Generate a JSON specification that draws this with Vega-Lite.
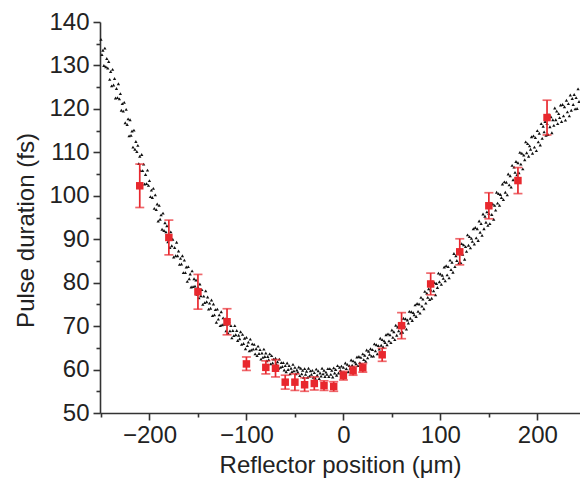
{
"$schema": "https://vega.github.io/schema/vega-lite/v6.json",
"width": 480,
"height": 391,
"autosize": {"type": "none"},
"padding": {"left": 100, "top": 22, "right": 0, "bottom": 79},
"background": "white",
"config": {
  "view": {"stroke": null},
  "font": "Liberation Sans",
  "axis": {"grid": false, "domainColor": "#333", "tickColor": "#333", "domainWidth": 1.6, "tickWidth": 1.6, "labelFont": "Liberation Sans", "titleFont": "Liberation Sans", "labelColor": "#222", "titleColor": "#222", "labelFontSize": 24, "titleFontSize": 24, "titleFontWeight": "normal"}
},
"datasets": {
  "dots": [
{"x":-250,"y":136.0},{"x":-249,"y":132.5},{"x":-248,"y":133.5},{"x":-247,"y":130.0},{"x":-246,"y":134.0},{"x":-245,"y":129.7},{"x":-244,"y":131.6},{"x":-243,"y":129.4},{"x":-242,"y":130.9},{"x":-241,"y":126.8},
{"x":-240,"y":128.6},{"x":-239,"y":125.3},{"x":-238,"y":129.1},{"x":-237,"y":125.5},{"x":-236,"y":127.0},{"x":-235,"y":122.5},{"x":-234,"y":124.7},{"x":-233,"y":122.6},{"x":-232,"y":125.8},{"x":-231,"y":122.3},
{"x":-230,"y":123.5},{"x":-229,"y":119.7},{"x":-228,"y":121.2},{"x":-227,"y":119.5},{"x":-226,"y":121.5},{"x":-225,"y":116.8},{"x":-224,"y":119.9},{"x":-223,"y":116.4},{"x":-222,"y":117.7},{"x":-221,"y":113.8},
{"x":-220,"y":117.5},{"x":-219,"y":113.9},{"x":-218,"y":114.9},{"x":-217,"y":111.2},{"x":-216,"y":115.1},{"x":-215,"y":110.7},{"x":-214,"y":112.5},{"x":-213,"y":110.2},{"x":-212,"y":111.6},{"x":-211,"y":107.4},
{"x":-210,"y":109.1},{"x":-209,"y":105.8},{"x":-208,"y":109.5},{"x":-207,"y":105.8},{"x":-206,"y":107.3},{"x":-205,"y":102.7},{"x":-204,"y":104.9},{"x":-203,"y":102.8},{"x":-202,"y":105.9},{"x":-201,"y":102.4},
{"x":-200,"y":103.5},{"x":-199,"y":99.8},{"x":-198,"y":101.3},{"x":-197,"y":99.6},{"x":-196,"y":101.7},{"x":-195,"y":97.1},{"x":-194,"y":100.2},{"x":-193,"y":96.8},{"x":-192,"y":98.1},{"x":-191,"y":94.2},
{"x":-190,"y":97.8},{"x":-189,"y":94.6},{"x":-188,"y":95.6},{"x":-187,"y":92.3},{"x":-186,"y":96.0},{"x":-185,"y":92.0},{"x":-184,"y":93.8},{"x":-183,"y":91.7},{"x":-182,"y":93.1},{"x":-181,"y":89.4},
{"x":-180,"y":91.1},{"x":-179,"y":88.1},{"x":-178,"y":91.7},{"x":-177,"y":88.5},{"x":-176,"y":90.0},{"x":-175,"y":85.9},{"x":-174,"y":88.1},{"x":-173,"y":86.2},{"x":-172,"y":89.3},{"x":-171,"y":86.2},
{"x":-170,"y":87.3},{"x":-169,"y":84.2},{"x":-168,"y":85.6},{"x":-167,"y":84.3},{"x":-166,"y":86.2},{"x":-165,"y":82.3},{"x":-164,"y":85.2},{"x":-163,"y":82.3},{"x":-162,"y":83.6},{"x":-161,"y":80.3},
{"x":-160,"y":83.7},{"x":-159,"y":80.9},{"x":-158,"y":82.0},{"x":-157,"y":79.0},{"x":-156,"y":82.7},{"x":-155,"y":79.1},{"x":-154,"y":80.9},{"x":-153,"y":79.2},{"x":-152,"y":80.6},{"x":-151,"y":77.3},
{"x":-150,"y":79.0},{"x":-149,"y":76.5},{"x":-148,"y":79.7},{"x":-147,"y":77.0},{"x":-146,"y":78.4},{"x":-145,"y":75.0},{"x":-144,"y":76.9},{"x":-143,"y":75.4},{"x":-142,"y":78.1},{"x":-141,"y":75.6},
{"x":-140,"y":76.7},{"x":-139,"y":73.9},{"x":-138,"y":75.3},{"x":-137,"y":74.1},{"x":-136,"y":76.0},{"x":-135,"y":72.4},{"x":-134,"y":75.1},{"x":-133,"y":72.6},{"x":-132,"y":73.8},{"x":-131,"y":70.9},
{"x":-130,"y":73.9},{"x":-129,"y":71.6},{"x":-128,"y":72.6},{"x":-127,"y":70.1},{"x":-126,"y":73.3},{"x":-125,"y":70.3},{"x":-124,"y":71.9},{"x":-123,"y":70.4},{"x":-122,"y":71.7},{"x":-121,"y":68.9},
{"x":-120,"y":70.4},{"x":-119,"y":68.4},{"x":-118,"y":71.1},{"x":-117,"y":68.9},{"x":-116,"y":70.1},{"x":-115,"y":67.3},{"x":-114,"y":69.0},{"x":-113,"y":67.8},{"x":-112,"y":70.1},{"x":-111,"y":68.0},
{"x":-110,"y":69.0},{"x":-109,"y":66.7},{"x":-108,"y":67.9},{"x":-107,"y":67.1},{"x":-106,"y":68.7},{"x":-105,"y":65.8},{"x":-104,"y":68.1},{"x":-103,"y":66.0},{"x":-102,"y":67.2},{"x":-101,"y":64.8},
{"x":-100,"y":67.4},{"x":-99,"y":65.5},{"x":-98,"y":66.3},{"x":-97,"y":64.3},{"x":-96,"y":67.0},{"x":-95,"y":64.5},{"x":-94,"y":65.9},{"x":-93,"y":64.7},{"x":-92,"y":65.8},{"x":-91,"y":63.6},
{"x":-90,"y":64.8},{"x":-89,"y":63.2},{"x":-88,"y":65.4},{"x":-87,"y":63.7},{"x":-86,"y":64.6},{"x":-85,"y":62.4},{"x":-84,"y":63.8},{"x":-83,"y":62.8},{"x":-82,"y":64.7},{"x":-81,"y":63.0},
{"x":-80,"y":63.8},{"x":-79,"y":62.0},{"x":-78,"y":63.0},{"x":-77,"y":62.3},{"x":-76,"y":63.6},{"x":-75,"y":61.3},{"x":-74,"y":63.2},{"x":-73,"y":61.5},{"x":-72,"y":62.4},{"x":-71,"y":60.6},
{"x":-70,"y":62.6},{"x":-69,"y":61.2},{"x":-68,"y":61.8},{"x":-67,"y":60.3},{"x":-66,"y":62.4},{"x":-65,"y":60.5},{"x":-64,"y":61.6},{"x":-63,"y":60.7},{"x":-62,"y":61.6},{"x":-61,"y":59.9},
{"x":-60,"y":60.9},{"x":-59,"y":59.5},{"x":-58,"y":61.5},{"x":-57,"y":60.0},{"x":-56,"y":60.9},{"x":-55,"y":59.0},{"x":-54,"y":60.3},{"x":-53,"y":59.5},{"x":-52,"y":61.2},{"x":-51,"y":59.7},
{"x":-50,"y":60.5},{"x":-49,"y":59.0},{"x":-48,"y":59.9},{"x":-47,"y":59.4},{"x":-46,"y":60.6},{"x":-45,"y":58.6},{"x":-44,"y":60.3},{"x":-43,"y":59.0},{"x":-42,"y":59.8},{"x":-41,"y":58.2},
{"x":-40,"y":60.2},{"x":-39,"y":58.9},{"x":-38,"y":59.6},{"x":-37,"y":58.2},{"x":-36,"y":60.3},{"x":-35,"y":58.5},{"x":-34,"y":59.7},{"x":-33,"y":58.9},{"x":-32,"y":59.8},{"x":-31,"y":58.2},
{"x":-30,"y":59.3},{"x":-29,"y":58.0},{"x":-28,"y":60.1},{"x":-27,"y":58.7},{"x":-26,"y":59.7},{"x":-25,"y":57.9},{"x":-24,"y":59.2},{"x":-23,"y":58.5},{"x":-22,"y":60.3},{"x":-21,"y":59.0},
{"x":-20,"y":59.8},{"x":-19,"y":58.4},{"x":-18,"y":59.4},{"x":-17,"y":58.9},{"x":-16,"y":60.2},{"x":-15,"y":58.4},{"x":-14,"y":60.2},{"x":-13,"y":58.9},{"x":-12,"y":59.8},{"x":-11,"y":58.3},
{"x":-10,"y":60.4},{"x":-9,"y":59.2},{"x":-8,"y":60.0},{"x":-7,"y":58.7},{"x":-6,"y":60.9},{"x":-5,"y":59.2},{"x":-4,"y":60.5},{"x":-3,"y":59.8},{"x":-2,"y":60.8},{"x":-1,"y":59.3},
{"x":0,"y":60.5},{"x":1,"y":59.3},{"x":2,"y":61.5},{"x":3,"y":60.2},{"x":4,"y":61.2},{"x":5,"y":59.5},{"x":6,"y":60.9},{"x":7,"y":60.3},{"x":8,"y":62.2},{"x":9,"y":61.0},
{"x":10,"y":62.0},{"x":11,"y":60.5},{"x":12,"y":61.7},{"x":13,"y":61.3},{"x":14,"y":62.9},{"x":15,"y":60.9},{"x":16,"y":63.0},{"x":17,"y":61.6},{"x":18,"y":62.8},{"x":19,"y":61.2},
{"x":20,"y":63.6},{"x":21,"y":62.3},{"x":22,"y":63.3},{"x":23,"y":61.9},{"x":24,"y":64.5},{"x":25,"y":62.7},{"x":26,"y":64.2},{"x":27,"y":63.5},{"x":28,"y":64.8},{"x":29,"y":63.1},
{"x":30,"y":64.6},{"x":31,"y":63.1},{"x":32,"y":65.9},{"x":33,"y":64.3},{"x":34,"y":65.7},{"x":35,"y":63.6},{"x":36,"y":65.5},{"x":37,"y":64.7},{"x":38,"y":67.2},{"x":39,"y":65.6},
{"x":40,"y":66.9},{"x":41,"y":65.2},{"x":42,"y":66.6},{"x":43,"y":66.2},{"x":44,"y":68.0},{"x":45,"y":65.7},{"x":46,"y":68.2},{"x":47,"y":66.6},{"x":48,"y":68.0},{"x":49,"y":66.2},
{"x":50,"y":69.1},{"x":51,"y":67.4},{"x":52,"y":68.7},{"x":53,"y":66.9},{"x":54,"y":70.2},{"x":55,"y":67.9},{"x":56,"y":69.8},{"x":57,"y":68.9},{"x":58,"y":70.5},{"x":59,"y":68.4},
{"x":60,"y":70.2},{"x":61,"y":68.6},{"x":62,"y":71.8},{"x":63,"y":70.0},{"x":64,"y":71.7},{"x":65,"y":69.3},{"x":66,"y":71.4},{"x":67,"y":70.7},{"x":68,"y":73.4},{"x":69,"y":71.8},
{"x":70,"y":73.3},{"x":71,"y":71.3},{"x":72,"y":73.1},{"x":73,"y":72.6},{"x":74,"y":74.9},{"x":75,"y":72.2},{"x":76,"y":75.2},{"x":77,"y":73.4},{"x":78,"y":75.1},{"x":79,"y":73.0},
{"x":80,"y":76.6},{"x":81,"y":74.6},{"x":82,"y":76.2},{"x":83,"y":74.0},{"x":84,"y":78.0},{"x":85,"y":75.3},{"x":86,"y":77.6},{"x":87,"y":76.6},{"x":88,"y":78.6},{"x":89,"y":76.1},
{"x":90,"y":78.3},{"x":91,"y":76.4},{"x":92,"y":80.2},{"x":93,"y":78.1},{"x":94,"y":80.0},{"x":95,"y":77.2},{"x":96,"y":79.8},{"x":97,"y":78.9},{"x":98,"y":82.2},{"x":99,"y":80.2},
{"x":100,"y":82.0},{"x":101,"y":79.6},{"x":102,"y":81.7},{"x":103,"y":81.0},{"x":104,"y":83.6},{"x":105,"y":80.4},{"x":106,"y":83.9},{"x":107,"y":81.8},{"x":108,"y":83.7},{"x":109,"y":81.1},
{"x":110,"y":85.2},{"x":111,"y":83.0},{"x":112,"y":84.7},{"x":113,"y":82.4},{"x":114,"y":86.7},{"x":115,"y":83.7},{"x":116,"y":86.2},{"x":117,"y":85.1},{"x":118,"y":87.2},{"x":119,"y":84.5},
{"x":120,"y":86.9},{"x":121,"y":84.6},{"x":122,"y":89.0},{"x":123,"y":86.5},{"x":124,"y":88.7},{"x":125,"y":85.4},{"x":126,"y":88.3},{"x":127,"y":87.2},{"x":128,"y":91.0},{"x":129,"y":88.6},
{"x":130,"y":90.6},{"x":131,"y":88.0},{"x":132,"y":90.2},{"x":133,"y":89.5},{"x":134,"y":92.4},{"x":135,"y":88.9},{"x":136,"y":92.7},{"x":137,"y":90.3},{"x":138,"y":92.4},{"x":139,"y":89.7},
{"x":140,"y":94.2},{"x":141,"y":91.6},{"x":142,"y":93.6},{"x":143,"y":90.9},{"x":144,"y":95.8},{"x":145,"y":92.4},{"x":146,"y":95.3},{"x":147,"y":93.9},{"x":148,"y":96.3},{"x":149,"y":93.2},
{"x":150,"y":95.9},{"x":151,"y":93.6},{"x":152,"y":98.3},{"x":153,"y":95.7},{"x":154,"y":98.1},{"x":155,"y":94.6},{"x":156,"y":97.8},{"x":157,"y":96.7},{"x":158,"y":100.8},{"x":159,"y":98.3},
{"x":160,"y":100.5},{"x":161,"y":97.8},{"x":162,"y":100.3},{"x":163,"y":99.6},{"x":164,"y":102.7},{"x":165,"y":99.1},{"x":166,"y":103.2},{"x":167,"y":100.8},{"x":168,"y":103.1},{"x":169,"y":100.2},
{"x":170,"y":105.0},{"x":171,"y":102.5},{"x":172,"y":104.6},{"x":173,"y":102.0},{"x":174,"y":107.0},{"x":175,"y":103.7},{"x":176,"y":106.6},{"x":177,"y":105.4},{"x":178,"y":107.9},{"x":179,"y":104.8},
{"x":180,"y":107.6},{"x":181,"y":105.3},{"x":182,"y":110.0},{"x":183,"y":107.3},{"x":184,"y":109.8},{"x":185,"y":106.2},{"x":186,"y":109.4},{"x":187,"y":108.3},{"x":188,"y":112.4},{"x":189,"y":109.9},
{"x":190,"y":112.0},{"x":191,"y":109.1},{"x":192,"y":111.5},{"x":193,"y":110.7},{"x":194,"y":113.6},{"x":195,"y":109.8},{"x":196,"y":113.8},{"x":197,"y":111.2},{"x":198,"y":113.4},{"x":199,"y":110.4},
{"x":200,"y":115.0},{"x":201,"y":112.4},{"x":202,"y":114.4},{"x":203,"y":111.7},{"x":204,"y":116.6},{"x":205,"y":113.2},{"x":206,"y":116.0},{"x":207,"y":114.7},{"x":208,"y":117.1},{"x":209,"y":113.9},
{"x":210,"y":116.6},{"x":211,"y":114.1},{"x":212,"y":118.7},{"x":213,"y":115.9},{"x":214,"y":118.2},{"x":215,"y":114.5},{"x":216,"y":117.5},{"x":217,"y":116.2},{"x":218,"y":120.2},{"x":219,"y":117.5},
{"x":220,"y":119.5},{"x":221,"y":116.6},{"x":222,"y":118.9},{"x":223,"y":118.0},{"x":224,"y":120.9},{"x":225,"y":117.1},{"x":226,"y":121.0},{"x":227,"y":118.4},{"x":228,"y":120.5},{"x":229,"y":117.4},
{"x":230,"y":122.0},{"x":231,"y":119.3},{"x":232,"y":121.2},{"x":233,"y":118.4},{"x":234,"y":123.2},{"x":235,"y":119.7},{"x":236,"y":122.4},{"x":237,"y":121.0},{"x":238,"y":123.3},{"x":239,"y":120.0},
{"x":240,"y":122.6},{"x":241,"y":120.1},{"x":242,"y":124.6},{"x":243,"y":121.7}
  ],
  "red": [
{"x":-210,"y":102.3,"lo":97.3,"hi":107.3},
{"x":-180,"y":90.4,"lo":86.4,"hi":94.4},
{"x":-150,"y":77.9,"lo":73.9,"hi":81.9},
{"x":-120,"y":71.0,"lo":68.0,"hi":74.0},
{"x":-100,"y":61.3,"lo":59.8,"hi":62.9},
{"x":-80,"y":60.5,"lo":59.0,"hi":62.0},
{"x":-70,"y":60.3,"lo":58.3,"hi":62.3},
{"x":-60,"y":57.1,"lo":55.5,"hi":58.7},
{"x":-50,"y":57.1,"lo":55.2,"hi":59.0},
{"x":-40,"y":56.5,"lo":55.0,"hi":58.1},
{"x":-30,"y":56.8,"lo":55.3,"hi":58.3},
{"x":-20,"y":56.3,"lo":55.2,"hi":57.4},
{"x":-10,"y":56.1,"lo":55.0,"hi":57.2},
{"x":0,"y":58.6,"lo":57.6,"hi":59.6},
{"x":10,"y":59.7,"lo":58.7,"hi":60.7},
{"x":20,"y":60.4,"lo":59.4,"hi":61.4},
{"x":40,"y":63.4,"lo":61.9,"hi":64.9},
{"x":60,"y":70.1,"lo":67.1,"hi":73.1},
{"x":90,"y":79.7,"lo":77.2,"hi":82.2},
{"x":120,"y":87.1,"lo":84.1,"hi":90.1},
{"x":150,"y":97.7,"lo":94.7,"hi":100.7},
{"x":180,"y":103.5,"lo":100.5,"hi":106.5},
{"x":210,"y":118.0,"lo":114.0,"hi":122.0}
  ]
},
"resolve": {"axis": {"x": "independent", "y": "independent"}},
"layer": [
  {
    "data": {"name": "dots"},
    "mark": {"type": "point", "shape": "triangle-up", "filled": true, "size": 11, "color": "#111", "opacity": 1},
    "encoding": {
      "x": {"field": "x", "type": "quantitative", "scale": {"domain": [-251, 244], "nice": false, "zero": false},
            "axis": {"orient": "bottom", "values": [-200, -100, 0, 100, 200], "tickSize": 7, "labelPadding": 3, "title": "Reflector position (μm)", "titlePadding": 6, "labelFlush": false}},
      "y": {"field": "y", "type": "quantitative", "scale": {"domain": [50, 140], "nice": false, "zero": false},
            "axis": {"orient": "left", "values": [50, 60, 70, 80, 90, 100, 110, 120, 130, 140], "tickSize": 7, "labelPadding": 4, "title": "Pulse duration (fs)", "titlePadding": 10, "titleY": 208}}
    }
  },
  {
    "data": {"name": "red"},
    "mark": {"type": "errorbar", "color": "#e8282e", "thickness": 1.7, "ticks": {"size": 9, "thickness": 1.7}},
    "encoding": {
      "x": {"field": "x", "type": "quantitative", "axis": null},
      "y": {"field": "lo", "type": "quantitative", "axis": null},
      "y2": {"field": "hi"}
    }
  },
  {
    "data": {"name": "red"},
    "mark": {"type": "point", "shape": "square", "filled": true, "size": 56, "color": "#e8282e", "opacity": 1},
    "encoding": {
      "x": {"field": "x", "type": "quantitative", "axis": null},
      "y": {"field": "y", "type": "quantitative", "axis": null}
    }
  },
  {
    "data": {"name": "red"},
    "mark": {"type": "point", "opacity": 0},
    "encoding": {
      "x": {"field": "x", "type": "quantitative", "axis": {"orient": "bottom", "values": [-250, -150, -50, 50, 150], "tickSize": 4, "labels": false, "domain": false, "title": null}},
      "y": {"field": "y", "type": "quantitative", "axis": {"orient": "left", "values": [55, 65, 75, 85, 95, 105, 115, 125, 135], "tickSize": 4, "labels": false, "domain": false, "title": null}}
    }
  }
]
}
